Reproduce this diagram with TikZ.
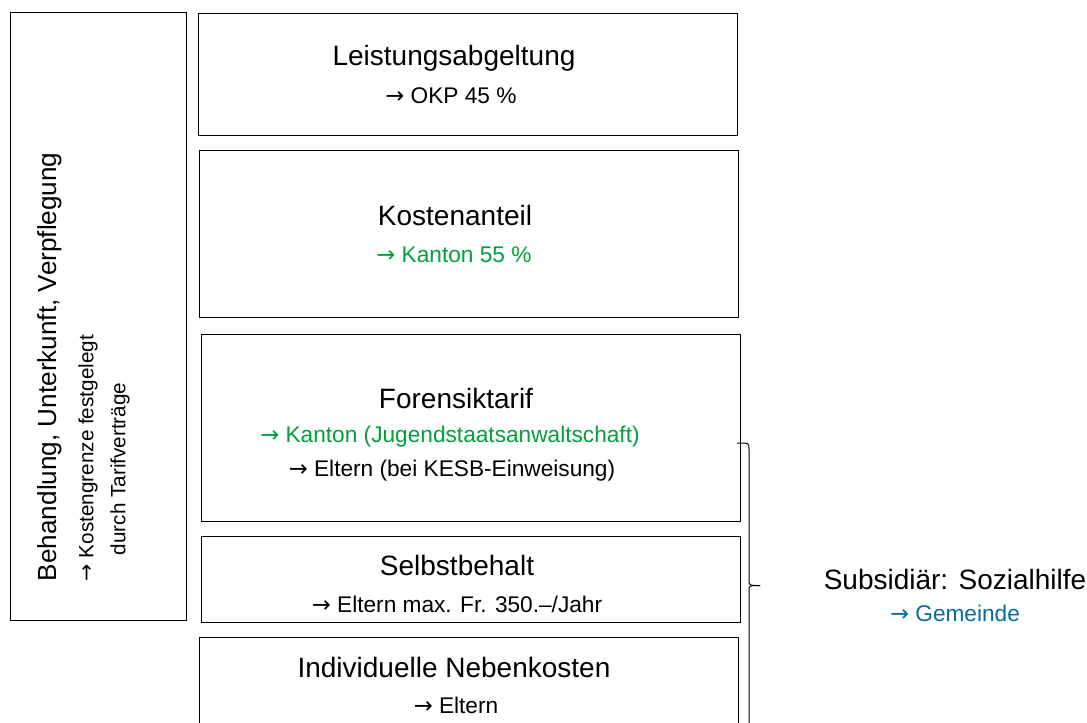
\documentclass[tikz,border=0pt]{standalone}
\usepackage{fontspec}
\setmainfont{Liberation Sans}
\newfontfamily\arrowfont{DejaVu Sans}
\newcommand{\toarrow}{{\arrowfont\char"2192}}
\definecolor{kantongreen}{RGB}{0,160,60}
\definecolor{gemeindeblue}{RGB}{0,110,165}
\tikzset{every picture/.style={line width=0.75pt}}
\tikzset{
  costbox/.style={draw, inner sep=0pt, minimum width=404.25pt, minimum height=#1},
  titletext/.style={font=\fontsize{21}{25}\selectfont},
  subtext/.style={font=\fontsize{17}{20}\selectfont}
}

\begin{document}
\begin{tikzpicture}[x=0.75pt,y=0.75pt,yscale=-1,xscale=1]
	\clip (0,0) rectangle (1087,722);

	%Shape: Rectangle [left]
	\draw (10,12) rectangle (186,620);
	%Shape: Rectangle [Leistungsabgeltung]
	\node [costbox=91.5pt] (leist) at (467.5,74) {};
	%Shape: Rectangle [Kostenanteil]
	\node [costbox=125.25pt] (kosten) at (468.5,233.5) {};
	%Shape: Rectangle [Forensiktarif]
	\node [costbox=140.25pt] (foren) at (470.5,427.5) {};
	%Shape: Rectangle [Selbstbehalt]
	\node [costbox=64.5pt] (selbst) at (470.5,579) {};
	%Shape: Rectangle [Nebenkosten], runs past the lower edge
	\draw (199,740) -- (199,637) -- (738,637) -- (738,740) ;

	%Brace
	\draw (737,443) .. controls (749,443) .. (749,449) -- (749,580) .. controls (749,585.5) .. (760,585.5) ;
	\draw (760,585.5) .. controls (749,585.5) .. (749,591) -- (749,740) ;

	% Text Node
	\draw (50,586) node [rotate=90, anchor=west, font=\fontsize{19.6}{23}\selectfont] (behand) {Behandlung, Unterkunft, Verpflegung};
	% Text Node
	\draw (88,586) node [rotate=90, anchor=west, font=\fontsize{15.5}{18}\selectfont] (grenze) {\toarrow\ Kostengrenze festgelegt};
	% Text Node
	\draw (120,560) node [rotate=90, anchor=west, font=\fontsize{15.5}{18}\selectfont] (tarif) {durch Tarifverträge};

	% Text Node
	\draw (454,58) node [titletext] (leisttitle) {Leistungsabgeltung};
	% Text Node
	\draw (451,96) node [subtext] (okp) {\toarrow\ OKP 45 \%};
	% Text Node
	\draw (455,215) node [titletext] (kostentitle) {Kostenanteil};
	% Text Node
	\draw (454,255) node [subtext, text=kantongreen] (kanton) {\toarrow\ Kanton 55 \%};
	% Text Node
	\draw (456,398) node [titletext] (forentitle) {Forensiktarif};
	% Text Node
	\draw (450,437) node [subtext, text=kantongreen] (jugend) {\toarrow\ Kanton (Jugendstaatsanwaltschaft)};
	% Text Node
	\draw (452,471) node [subtext] (kesb) {\toarrow\ Eltern (bei KESB-Einweisung)};
	% Text Node
	\draw (457,565) node [titletext] (selbsttitle) {Selbstbehalt};
	% Text Node
	\draw (457,604) node [subtext] (max) {\toarrow\ Eltern max. Fr. 350.–/Jahr};
	% Text Node
	\draw (454,667) node [titletext] (nebentitle) {Individuelle Nebenkosten};
	% Text Node
	\draw (456,705) node [subtext] (eltern) {\toarrow\ Eltern};
	% Text Node
	\draw (955,579) node [titletext] (subsid) {Subsidiär: Sozialhilfe};
	% Text Node
	\draw (955,613) node [subtext, text=gemeindeblue] (gemeinde) {\toarrow\ Gemeinde};

\end{tikzpicture}
\end{document}
